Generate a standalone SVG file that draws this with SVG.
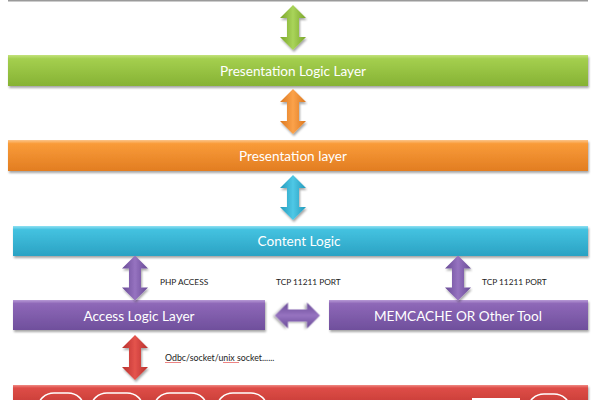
<svg xmlns="http://www.w3.org/2000/svg" width="600" height="400" viewBox="0 0 600 400">
<style>
.bar-label{font-family:Lato,"Open Sans","Liberation Sans",sans-serif;font-size:13.6px;fill:#ffffff;text-anchor:middle;dominant-baseline:central}
.small{font-family:Lato,"Open Sans","Liberation Sans",sans-serif;font-size:8.3px;fill:#222222;dominant-baseline:central}
.cyl{fill:none;stroke:#ffffff;stroke-width:1.5}
</style>
<defs>
<filter id="sh" x="-5%" y="-30%" width="110%" height="170%">
<feDropShadow dx="1" dy="2" stdDeviation="1.2" flood-color="#000" flood-opacity="0.35"/>
</filter>
<linearGradient id="gGreen" x1="0" y1="0" x2="0" y2="1"><stop offset="0" stop-color="#c3e27c"/><stop offset="0.12" stop-color="#a4cf4f"/><stop offset="1" stop-color="#86b233"/></linearGradient>
<linearGradient id="gOrange" x1="0" y1="0" x2="0" y2="1"><stop offset="0" stop-color="#fcc58a"/><stop offset="0.12" stop-color="#f99b38"/><stop offset="1" stop-color="#e27d22"/></linearGradient>
<linearGradient id="gBlue" x1="0" y1="0" x2="0" y2="1"><stop offset="0" stop-color="#8fe0f2"/><stop offset="0.12" stop-color="#44c2e0"/><stop offset="1" stop-color="#2aa2c3"/></linearGradient>
<linearGradient id="gPurple" x1="0" y1="0" x2="0" y2="1"><stop offset="0" stop-color="#b89ad6"/><stop offset="0.12" stop-color="#8e68b8"/><stop offset="1" stop-color="#6f4f9c"/></linearGradient>
<linearGradient id="gRed" x1="0" y1="0" x2="0" y2="1"><stop offset="0" stop-color="#f08a84"/><stop offset="0.15" stop-color="#de4d47"/><stop offset="1" stop-color="#c73c37"/></linearGradient>
<linearGradient id="aGreen" x1="0" y1="0" x2="1" y2="0"><stop offset="0" stop-color="#7aa52a"/><stop offset="0.5" stop-color="#a9d45a"/><stop offset="1" stop-color="#7aa52a"/></linearGradient>
<linearGradient id="aOrange" x1="0" y1="0" x2="1" y2="0"><stop offset="0" stop-color="#dc7820"/><stop offset="0.5" stop-color="#fba24a"/><stop offset="1" stop-color="#dc7820"/></linearGradient>
<linearGradient id="aBlue" x1="0" y1="0" x2="1" y2="0"><stop offset="0" stop-color="#249abb"/><stop offset="0.5" stop-color="#4fc8e6"/><stop offset="1" stop-color="#249abb"/></linearGradient>
<linearGradient id="aPurple" x1="0" y1="0" x2="1" y2="0"><stop offset="0" stop-color="#684a96"/><stop offset="0.5" stop-color="#9673c0"/><stop offset="1" stop-color="#684a96"/></linearGradient>
<linearGradient id="aRed" x1="0" y1="0" x2="1" y2="0"><stop offset="0" stop-color="#b8302c"/><stop offset="0.5" stop-color="#e4534d"/><stop offset="1" stop-color="#b8302c"/></linearGradient>
<path id="dArrow" d="M0,-22.5 L13,-9.5 L6,-9.5 L6,9.5 L13,9.5 L0,22.5 L-13,9.5 L-6,9.5 L-6,-9.5 L-13,-9.5 Z"/>
</defs>
<rect width="600" height="400" fill="#ffffff"/>

<g id="top-box">
<line x1="8" y1="0.8" x2="588" y2="0.8" stroke="#9a9a9a" stroke-width="1.6"/>
</g>

<g id="presentation-logic-layer">
<rect x="8" y="55" width="580" height="31" fill="url(#gGreen)" filter="url(#sh)"/>
<text class="bar-label" x="293" y="71">Presentation Logic Layer</text>
</g>

<g id="presentation-layer">
<rect x="8" y="140" width="580" height="31" fill="url(#gOrange)" filter="url(#sh)"/>
<text class="bar-label" x="293" y="156">Presentation layer</text>
</g>

<g id="content-logic">
<rect x="13" y="226" width="575" height="30" fill="url(#gBlue)" filter="url(#sh)"/>
<text class="bar-label" x="299" y="241">Content Logic</text>
</g>

<g id="access-logic-layer">
<rect x="13" y="300" width="252" height="30" fill="url(#gPurple)" filter="url(#sh)"/>
<text class="bar-label" x="139" y="316">Access Logic Layer</text>
</g>

<g id="memcache">
<rect x="329" y="300" width="259" height="30" fill="url(#gPurple)" filter="url(#sh)"/>
<text class="bar-label" x="458" y="316">MEMCACHE OR Other Tool</text>
</g>

<g id="database-layer">
<rect x="13" y="385" width="575" height="20" fill="url(#gRed)" filter="url(#sh)"/>
<rect class="cyl" x="38" y="393" width="46" height="30" rx="16"/>
<rect class="cyl" x="91" y="393" width="52" height="30" rx="16"/>
<rect class="cyl" x="154" y="393" width="53" height="30" rx="16"/>
<rect class="cyl" x="217" y="393" width="50" height="30" rx="16"/>
<rect x="472" y="398" width="48" height="4" fill="#ffffff"/>
<rect class="cyl" x="528" y="394" width="42" height="30" rx="16"/>
</g>

<g id="connectors">
<use href="#dArrow" transform="translate(293,27.5)" fill="url(#aGreen)" filter="url(#sh)"/>
<use href="#dArrow" transform="translate(293,111.5)" fill="url(#aOrange)" filter="url(#sh)"/>
<use href="#dArrow" transform="translate(293,197.5)" fill="url(#aBlue)" filter="url(#sh)"/>
<use href="#dArrow" transform="translate(135,278)" fill="url(#aPurple)" filter="url(#sh)"/>
<use href="#dArrow" transform="translate(458,278)" fill="url(#aPurple)" filter="url(#sh)"/>
<use href="#dArrow" transform="translate(297.5,315.5) rotate(90)" fill="url(#aPurple)" filter="url(#sh)"/>
<use href="#dArrow" transform="translate(135,357.5)" fill="url(#aRed)" filter="url(#sh)"/>
<text class="small" x="160" y="282">PHP ACCESS</text>
<text class="small" x="276" y="282">TCP 11211 PORT</text>
<text class="small" x="482" y="282">TCP 11211 PORT</text>
<text class="small" x="165" y="357" style="font-size:8.8px">Odbc/socket/unix socket......</text>
<path d="M165,362 l1,1 l1,-1 l1,1 l1,-1 l1,1 l1,-1 l1,1 l1,-1 l1,1 l1,-1 l1,1 l1,-1 l1,1 l1,-1 l1,1 l1,-1" fill="none" stroke="#e03030" stroke-width="0.6"/>
<path d="M223,362 l1,1 l1,-1 l1,1 l1,-1 l1,1 l1,-1 l1,1 l1,-1 l1,1 l1,-1 l1,1 l1,-1 l1,1 l1,-1 l1,1 l1,-1" fill="none" stroke="#e03030" stroke-width="0.6"/>
</g>
</svg>
